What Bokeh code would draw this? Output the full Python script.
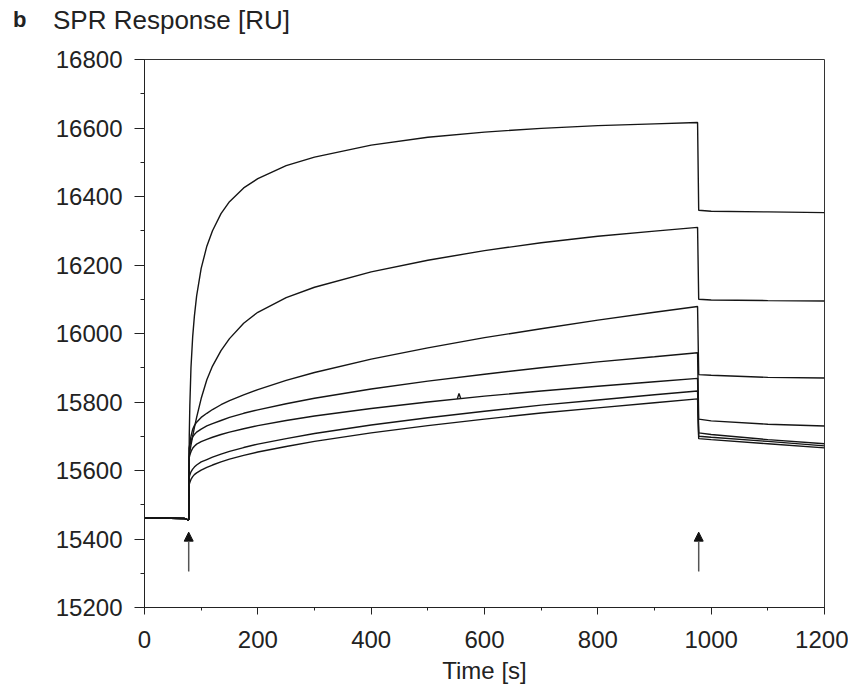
from bokeh.plotting import figure
from bokeh.models import Arrow, NormalHead, ColumnDataSource, Range1d, FixedTicker, Div
from bokeh.layouts import column
from bokeh.embed import file_html
from bokeh.resources import INLINE

FONT = "Liberation Sans"

# time points (s)
time_s = [0, 70, 77, 78, 79, 80, 82, 85, 88, 92, 100, 110, 120, 135, 150, 175, 200,
          250, 300, 400, 500, 600, 700, 800, 900, 976, 978, 1000, 1100, 1200]

baseline = [15462, 15460, 15456, 15456]

curve1 = baseline + [15700, 15790, 15900, 15990, 16050, 16110, 16190, 16255, 16300, 16350, 16385, 16425,
                     16452, 16490, 16515, 16550, 16573, 16588, 16599, 16607, 16612, 16616,
                     16360, 16357, 16355, 16353]
curve2 = baseline + [15642, 15654, 15674, 15700, 15725, 15755, 15810, 15865, 15905, 15950, 15985, 16030,
                     16062, 16105, 16135, 16180, 16214, 16242, 16265, 16284, 16299, 16310,
                     16100, 16098, 16096, 16095]
curve3 = baseline + [15665, 15680, 15700, 15720, 15731, 15741, 15755, 15767, 15778, 15792, 15804, 15821,
                     15836, 15863, 15886, 15925, 15958, 15988, 16014, 16039, 16062, 16079,
                     15880, 15878, 15872, 15870]
curve4 = baseline + [15665, 15674, 15687, 15698, 15705, 15712, 15721, 15730, 15737, 15746, 15755, 15767,
                     15777, 15795, 15811, 15838, 15861, 15881, 15900, 15917, 15932, 15944,
                     15750, 15745, 15735, 15730]
curve5 = baseline + [15638, 15645, 15655, 15665, 15671, 15677, 15684, 15691, 15697, 15705, 15712, 15722,
                     15731, 15746, 15759, 15781, 15800, 15817, 15832, 15846, 15859, 15869,
                     15710, 15705, 15690, 15678]
curve6 = baseline + [15580, 15587, 15596, 15604, 15610, 15616, 15625, 15632, 15639, 15648, 15656, 15667,
                     15677, 15693, 15708, 15733, 15754, 15773, 15791, 15806, 15821, 15832,
                     15700, 15697, 15685, 15672]
curve7 = baseline + [15560, 15565, 15574, 15582, 15588, 15593, 15601, 15609, 15616, 15625, 15633, 15644,
                     15654, 15670, 15685, 15710, 15731, 15750, 15768, 15783, 15798, 15809,
                     15693, 15690, 15678, 15666]
curves = [curve1, curve2, curve3, curve4, curve5, curve6, curve7]

# small injection spike on curve 5
spike_t = [552, 555, 558]
spike_v = [15809, 15825, 15810]

# injection / end-of-injection arrows
arrow_t = [78, 978]
arrow_bottom = [15305, 15305]
arrow_top = [15420, 15420]

x_ticks = [0, 200, 400, 600, 800, 1000, 1200]
y_ticks = [15200, 15400, 15600, 15800, 16000, 16200, 16400, 16600, 16800]

panel_letter = "b"
y_title = "SPR Response [RU]"
x_title = "Time [s]"

header = Div(
    text=('<span style="position:absolute;left:13px;top:0px;font-weight:bold;font-size:22px;'
          'line-height:40px;">%s</span>'
          '<span style="position:absolute;left:53px;top:0px;font-size:26px;line-height:40px;">%s</span>')
         % (panel_letter, y_title),
    width=848, height=40, margin=0,
    styles={"font-family": FONT, "color": "#222222", "position": "relative"})

p = figure(width=848, height=649, output_backend="svg", toolbar_location=None,
           x_range=Range1d(0, 1200), y_range=Range1d(15200, 16800),
           min_border_left=144, min_border_right=24, min_border_top=19, min_border_bottom=82)
p.margin = 0
p.grid.visible = False
p.background_fill_color = "white"
p.border_fill_color = "white"
p.outline_line_color = "#333333"
p.outline_line_width = 1

for c in curves:
    p.line(time_s, c, line_color="#151515", line_width=1.4)
p.line(spike_t, spike_v, line_color="#151515", line_width=1.4)

src = ColumnDataSource(dict(x=arrow_t, y0=arrow_bottom, y1=arrow_top))
p.add_layout(Arrow(end=NormalHead(size=9, fill_color="#111111", line_color="#111111"),
                   x_start="x", y_start="y0", x_end="x", y_end="y1", source=src,
                   line_color="#555555", line_width=1.5))

xa = p.xaxis[0]
xa.ticker = FixedTicker(ticks=x_ticks, minor_ticks=list(range(0, 1201, 100)))
ya = p.yaxis[0]
ya.ticker = FixedTicker(ticks=y_ticks, minor_ticks=list(range(15200, 16801, 100)))

for ax in (xa, ya):
    ax.axis_line_color = "#222222"
    ax.major_tick_line_color = "#222222"
    ax.minor_tick_line_color = "#222222"
    ax.major_label_text_font = FONT
    ax.major_label_text_font_size = "24px"
    ax.major_label_text_color = "#222222"
    ax.major_tick_in = 0
    ax.minor_tick_in = 0

xa.major_tick_out = 7
xa.minor_tick_out = 3
xa.major_label_standoff = 16
xa.axis_label = x_title
xa.axis_label_text_font = FONT
xa.axis_label_text_font_style = "normal"
xa.axis_label_text_font_size = "24px"
xa.axis_label_text_color = "#222222"
xa.axis_label_standoff = 6

ya.major_tick_out = 10
ya.minor_tick_out = 4
ya.major_label_standoff = 12

layout = column(header, p, spacing=0, margin=0)
open("out.html", "w").write(file_html(layout, INLINE))
